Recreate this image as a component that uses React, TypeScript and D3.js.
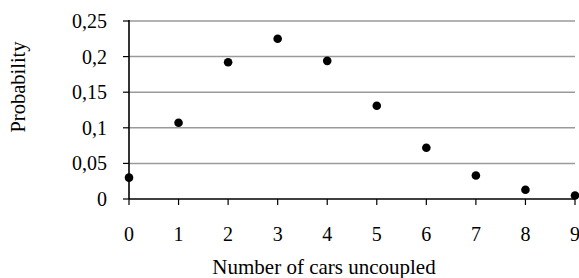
import React from "react";
import * as d3 from "d3";

const carsUncoupled = [0, 1, 2, 3, 4, 5, 6, 7, 8, 9];
const probability = [0.03, 0.107, 0.192, 0.225, 0.194, 0.131, 0.072, 0.033, 0.013, 0.005];
const yTicks = [0, 0.05, 0.1, 0.15, 0.2, 0.25];

const W = 579;
const H = 278;
const margin = { top: 21, right: 4, bottom: 79, left: 129 };
const font = "'Liberation Serif', 'Times New Roman', serif";

export default function App() {
  const innerW = W - margin.left - margin.right;
  const innerH = H - margin.top - margin.bottom;

  const x = d3.scaleLinear().domain([0, 9]).range([0, innerW]);
  const y = d3.scaleLinear().domain([0, 0.25]).range([innerH, 0]);
  const fmt = (v: number) => String(+v.toFixed(2)).replace(".", ",");

  return (
    <svg
      width={W}
      height={H}
      style={{ position: "absolute", left: 0, top: 0, background: "#fff" }}
      fontFamily={font}
    >
      <g transform={`translate(${margin.left},${margin.top})`}>
        {/* grid */}
        {yTicks.filter((t) => t > 0).map((t) => (
          <line key={t} x1={0} x2={innerW} y1={y(t)} y2={y(t)} stroke="#9a9a9a" strokeWidth={1.5} />
        ))}
        {/* y ticks + labels */}
        {yTicks.map((t) => (
          <g key={t} transform={`translate(0,${y(t)})`}>
            <line x1={-6} x2={0} stroke="#000" strokeWidth={1.2} />
            <text x={-22} dy="0.35em" textAnchor="end" fontSize={20}>
              {fmt(t)}
            </text>
          </g>
        ))}
        {/* x ticks + labels */}
        {carsUncoupled.map((c) => (
          <g key={c} transform={`translate(${x(c)},${innerH})`}>
            <line y1={0} y2={6} stroke="#000" strokeWidth={1.2} />
            <text y={42} textAnchor="middle" fontSize={20}>
              {c}
            </text>
          </g>
        ))}
        {/* axes */}
        <line x1={0} x2={0} y1={-1} y2={innerH} stroke="#000" strokeWidth={1.6} />
        <line x1={0} x2={innerW} y1={innerH} y2={innerH} stroke="#000" strokeWidth={1.6} />
        {/* points */}
        {carsUncoupled.map((c, i) => (
          <circle key={c} cx={x(c)} cy={y(probability[i])} r={4.3} fill="#000" />
        ))}
      </g>
      <text x={324} y={274} textAnchor="middle" fontSize={21}>
        Number of cars uncoupled
      </text>
      <text transform={`translate(25,87) rotate(-90)`} textAnchor="middle" fontSize={20.5}>
        Probability
      </text>
    </svg>
  );
}
